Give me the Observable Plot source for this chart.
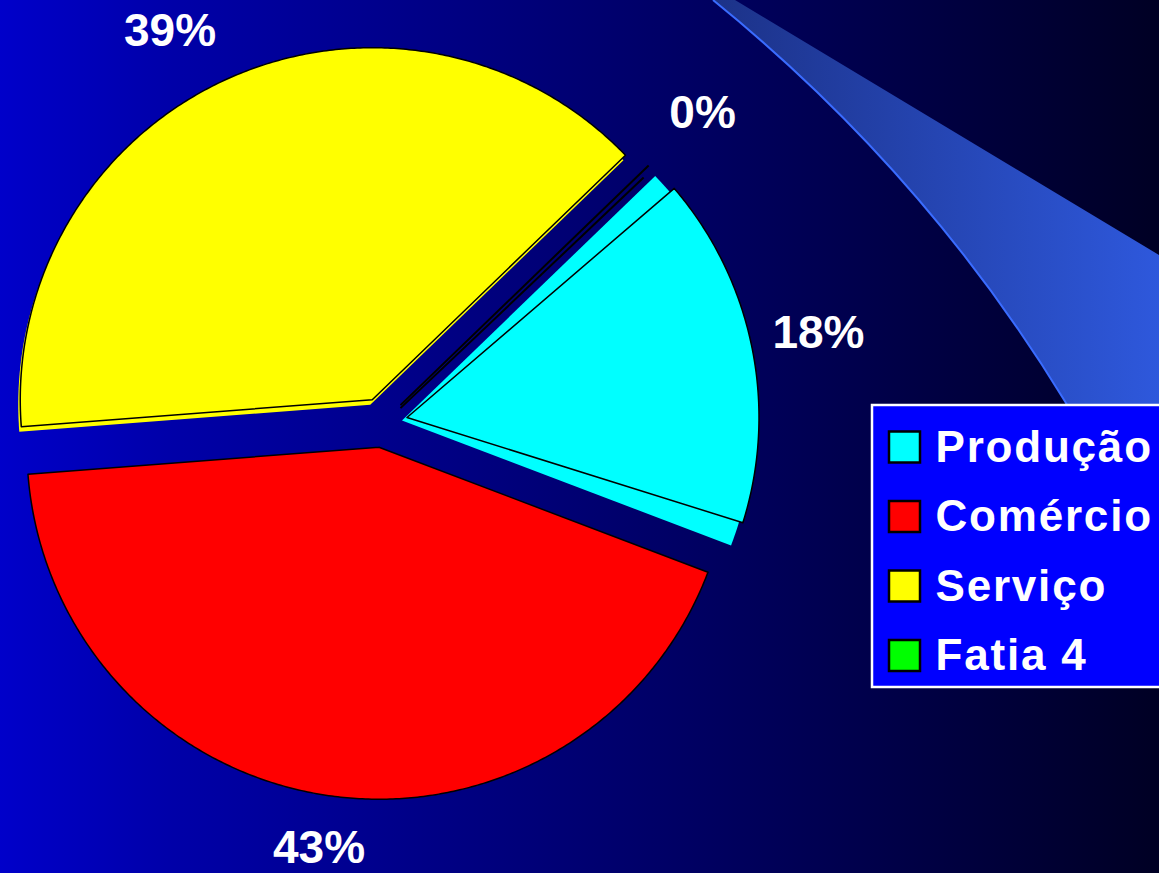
<!DOCTYPE html>
<html><head><meta charset="utf-8">
<script src="https://cdn.jsdelivr.net/npm/d3@7"></script>
<script src="https://cdn.jsdelivr.net/npm/@observablehq/plot@0.6"></script>
<style>
html,body{margin:0;padding:0;background:#000024;overflow:hidden}
#chart svg{display:block}
</style>
</head><body><div id="chart"></div>
<script>
// ---- data ----
const categories = ["Produção", "Comércio", "Serviço", "Fatia 4"];
const shares = [18, 43, 39, 0];
const shareLabels = ["18%", "43%", "39%", "0%"];
const sliceColors = ["#00FFFF", "#FF0000", "#FFFF00", "#00FF00"];

// ---- layout ----
const W = 1159, H = 873;
const pie = {cx: 382, cy: 422, r: 352, explode: 25, startDeg: 46, labelR: 445, labelYMin: 31, labelYMax: 848};
const sides = {
  "Produção": {inset: 3.4, dx: -5, dy: 3, r: 1},
  "Serviço": {inset: 0, dx: -2, dy: 5, r: 1}
};
const zeroEdge = {r: 0.98, dx: -5, dy: 12};
const legend = {x: 872, y: 405, w: 300, h: 282, sw: 31, swX: 889, rowY0: 447, rowStep: 69.5, textX: 935};
const font = "'Liberation Sans', Arial, Helvetica, sans-serif";
const rad = Math.PI / 180;

const rows = categories.map((c, i) => ({category: c, share: shares[i], label: shareLabels[i], color: sliceColors[i]}));
const start = pie.startDeg * rad;
const arcs = d3.pie().sort(null).value(d => d.share).startAngle(start).endAngle(start + 2 * Math.PI)(rows);

function wedge(key, color, a0, a1, ax, ay, r) {
  const pts = [{key, color, x: ax, y: ay}];
  const n = Math.max(1, Math.ceil(Math.abs(a1 - a0) / (0.5 * rad)));
  for (let i = 0; i <= n; i++) {
    const a = a0 + (a1 - a0) * i / n;
    pts.push({key, color, x: ax + r * Math.sin(a), y: ay - r * Math.cos(a)});
  }
  pts.push({key, color, x: ax, y: ay});
  return pts;
}

const tops = [], under = [], zeroLinks = [], labels = [];
for (const a of arcs) {
  const d = a.data;
  const m = (a.startAngle + a.endAngle) / 2;
  const ax = pie.cx + pie.explode * Math.sin(m);
  const ay = pie.cy - pie.explode * Math.cos(m);
  const s = sides[d.category];
  if (d.share === 0) {
    const ex = ax + pie.r * zeroEdge.r * Math.sin(m);
    const ey = ay - pie.r * zeroEdge.r * Math.cos(m);
    zeroLinks.push({x1: ax, y1: ay, x2: ex, y2: ey});
    zeroLinks.push({x1: ax, y1: ay + 3, x2: ex + zeroEdge.dx, y2: ey + zeroEdge.dy});
  } else {
    const inset = s ? s.inset * rad : 0;
    if (s) under.push(...wedge(d.category + "-side", d.color, a.startAngle, a.endAngle, ax + s.dx, ay + s.dy, pie.r * s.r));
    tops.push(...wedge(d.category, d.color, a.startAngle + inset, a.endAngle - inset, ax, ay, pie.r));
  }
  // label along bisector
  let lx = pie.cx + pie.labelR * Math.sin(m);
  let ly = pie.cy - pie.labelR * Math.cos(m);
  if (ly < pie.labelYMin) {
    ly = pie.labelYMin;
    const dy = pie.cy - ly;
    lx = pie.cx + Math.sign(Math.sin(m)) * Math.sqrt(Math.max(0, pie.labelR ** 2 - dy * dy));
  }
  if (ly > pie.labelYMax) ly = pie.labelYMax;
  labels.push({x: lx, y: ly, text: d.label});
}

const legendRows = rows.map((d, i) => ({...d, cy: legend.rowY0 + legend.rowStep * i}));

function background() {
  const g = d3.create("svg:g");
  const defs = g.append("defs");
  const bg = defs.append("linearGradient").attr("id", "bgGrad").attr("x1", 0).attr("x2", 1).attr("y1", 0).attr("y2", 0);
  bg.append("stop").attr("offset", 0).attr("stop-color", "#0000CA");
  bg.append("stop").attr("offset", 0.15).attr("stop-color", "#0000A8");
  bg.append("stop").attr("offset", 1).attr("stop-color", "#000024");
  const sg = defs.append("linearGradient").attr("id", "swGrad").attr("gradientUnits", "userSpaceOnUse")
    .attr("x1", 713).attr("x2", W).attr("y1", 0).attr("y2", 0);
  sg.append("stop").attr("offset", 0).attr("stop-color", "#1c3288");
  sg.append("stop").attr("offset", 1).attr("stop-color", "#2e58dc");
  g.append("rect").attr("width", W).attr("height", H).attr("fill", "url(#bgGrad)");
  const edge = "M713,0Q960,200 1110,480L1159,620";
  g.append("path").attr("d", edge + "L1159,255L735,0Z").attr("fill", "url(#swGrad)");
  g.append("path").attr("d", edge).attr("fill", "none").attr("stroke", "#3a6cff").attr("stroke-width", 2);
  return g.node();
}

const chart = Plot.plot({
  width: W, height: H, margin: 0,
  x: {domain: [0, W], range: [0, W], axis: null},
  y: {domain: [0, H], range: [0, H], axis: null},
  style: {background: "transparent", fontFamily: font},
  marks: [
    background,
    Plot.line(under, {x: "x", y: "y", z: "key", fill: "color", stroke: "none", curve: "linear"}),
    Plot.link(zeroLinks, {x1: "x1", y1: "y1", x2: "x2", y2: "y2", stroke: "black", strokeWidth: 2}),
    Plot.line(tops, {x: "x", y: "y", z: "key", fill: "color", stroke: "black", strokeWidth: 1.5, strokeLinejoin: "round", curve: "linear"}),
    Plot.text(labels, {x: "x", y: "y", text: "text", fill: "white", fontSize: 46, fontWeight: "bold", textAnchor: "middle", lineAnchor: "middle"}),
    // legend
    Plot.rect([legend], {x1: d => d.x, x2: d => d.x + d.w, y1: d => d.y, y2: d => d.y + d.h, fill: "#0000FF", stroke: "white", strokeWidth: 2.5}),
    Plot.rect(legendRows, {x1: legend.swX, x2: legend.swX + legend.sw, y1: d => d.cy - legend.sw / 2, y2: d => d.cy + legend.sw / 2, fill: "color", stroke: "black", strokeWidth: 2.5}),
    Plot.text(legendRows, {x: legend.textX, y: "cy", text: "category", fill: "white", fontSize: 44, fontWeight: "bold", textAnchor: "start", lineAnchor: "middle"})
  ]
});
const textGroups = chart.querySelectorAll('g[aria-label="text"]');
if (textGroups.length) textGroups[textGroups.length - 1].setAttribute("letter-spacing", "1.8");
document.getElementById("chart").append(chart);
</script>
</body></html>
